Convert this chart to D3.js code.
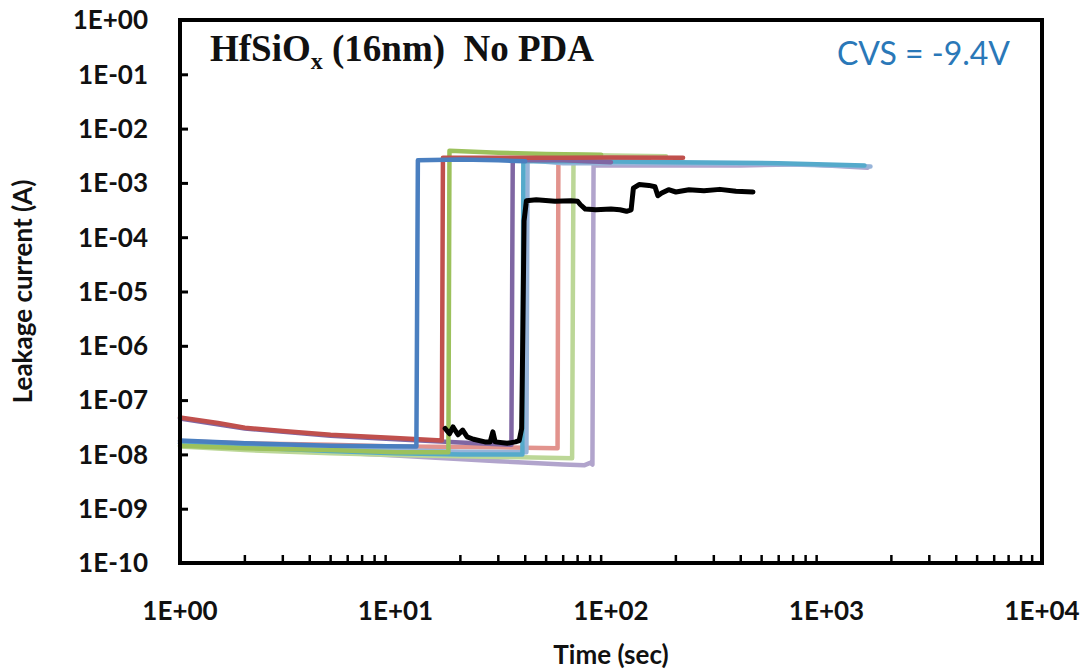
<!DOCTYPE html>
<html><head><meta charset="utf-8">
<script src="https://cdn.jsdelivr.net/npm/d3@7"></script>
<style>body{margin:0;background:#fff}</style>
</head><body>
<svg id="c" width="1089" height="671"></svg>
<script>
// ---- data: [time (s), leakage current (A)] ----
const blue = [[1,1.8e-8],[2,1.6e-8],[5,1.45e-8],[12.5,1.4e-8],[12.7,2.6e-3],[20,2.7e-3],[30,2.6e-3],[40,2.5e-3]];
const red = [[1,4.8e-8],[1.5,3.8e-8],[2,3.1e-8],[3,2.7e-8],[5,2.3e-8],[10,2e-8],[16.4,1.8e-8],[16.6,2.9e-3],[30,2.9e-3],[60,2.9e-3],[100,2.95e-3],[216,2.9e-3]];
const green = [[1,1.45e-8],[2,1.3e-8],[5,1.2e-8],[10,1.1e-8],[17.6,1.1e-8],[17.8,3.9e-3],[30,3.6e-3],[50,3.4e-3],[90,3.3e-3]];
const purple = [[1,4.6e-8],[2,3e-8],[5,2.2e-8],[10,1.9e-8],[20,1.65e-8],[34.5,1.5e-8],[35,2.6e-3],[60,2.6e-3],[100,2.4e-3]];
const cyan = [[1,1.6e-8],[2,1.35e-8],[5,1.15e-8],[10,1.05e-8],[20,1e-8],[38.8,1e-8],[39.2,2.5e-3],[80,2.5e-3],[200,2.4e-3],[600,2.3e-3],[1500,2.1e-3]];
const lightblue = [[1,1.7e-8],[2,1.45e-8],[5,1.3e-8],[10,1.2e-8],[20,1.12e-8],[40.5,1.1e-8],[41,2.6e-3],[60,2.3e-3],[150,2.3e-3],[500,2.25e-3],[1600,2e-3]];
const pink = [[1,1.75e-8],[2,1.6e-8],[5,1.5e-8],[10,1.4e-8],[30,1.35e-8],[56.5,1.3e-8],[57,2.9e-3],[100,2.8e-3],[150,2.7e-3]];
const lightgreen = [[1,1.4e-8],[2,1.2e-8],[5,1.05e-8],[10,9.8e-9],[30,9e-9],[66,8.5e-9],[67,3.3e-3],[100,3.2e-3],[180,3.1e-3]];
const lavender = [[1,1.6e-8],[2,1.3e-8],[5,1.1e-8],[10,9.5e-9],[30,7.5e-9],[60,6.5e-9],[75,6.3e-9],[80,7e-9],[82,6.5e-9],[83,2.1e-3],[150,2.1e-3],[400,2.1e-3],[800,2.2e-3],[1550,1.9e-3]];
const black = [[17,3e-8],[17.8,2.4e-8],[18.5,3.2e-8],[19.5,2.3e-8],[20.5,2.8e-8],[21.5,2.1e-8],[23,1.9e-8],[26,1.7e-8],[27.5,1.7e-8],[28.3,2.6e-8],[29,1.7e-8],[33,1.6e-8],[36,1.7e-8],[37.5,1.8e-8],[38.5,3e-8],[39,2e-6],[39.5,2e-4],[40.5,4.7e-4],[45,4.9e-4],[55,4.6e-4],[65,4.7e-4],[70,4.6e-4],[72,4e-4],[76,3.3e-4],[85,3.2e-4],[100,3.3e-4],[110,3.2e-4],[118,3e-4],[124,3.2e-4],[127,8e-4],[135,9.3e-4],[150,9e-4],[160,8.5e-4],[165,5.8e-4],[172,6.5e-4],[185,7.5e-4],[200,6.8e-4],[230,7.5e-4],[270,7.2e-4],[320,7.6e-4],[380,7e-4],[456,6.8e-4]];

const seriesList = [
  {name:"lavender", data:lavender, color:"#b1a4cc"},
  {name:"lightgreen", data:lightgreen, color:"#bcd797"},
  {name:"pink", data:pink, color:"#e2938d"},
  {name:"lightblue", data:lightblue, color:"#97b4d9"},
  {name:"cyan", data:cyan, color:"#55aacb"},
  {name:"purple", data:purple, color:"#7f66a3"},
  {name:"green", data:green, color:"#9cc15c"},
  {name:"red", data:red, color:"#c0504d"},
  {name:"blue", data:blue, color:"#4a7fc0"},
  {name:"black", data:black, color:"#000000"}
];
const xTickValues = [1,10,100,1000,10000];
const yTickValues = [1,1e-1,1e-2,1e-3,1e-4,1e-5,1e-6,1e-7,1e-8,1e-9,1e-10];
const fmtE = v => { const e = Math.round(Math.log10(v)); return "1E" + (e<0?"-":"+") + String(Math.abs(e)).padStart(2,"0"); };

const W=1089,H=671, L=180, R=1042, T=20, B=563;
const svg = d3.select("#c");
const x = d3.scaleLog().domain([1,10000]).range([L,R]);
const y = d3.scaleLog().domain([1e-10,1]).range([B,T]);

const line = d3.line().x(d=>x(d[0])).y(d=>y(d[1])).curve(d3.curveLinear);
const plot = svg.append("g");
plot.selectAll("path.s").data(seriesList).join("path")
  .attr("class","s").attr("d",d=>line(d.data))
  .attr("fill","none").attr("stroke",d=>d.color)
  .attr("stroke-width",d=>d.name==="black"?5:4.5)
  .attr("stroke-linejoin","round").attr("stroke-linecap","round");

// minor x ticks (inside)
const minor = [];
for (let d=1; d<10000; d*=10) for (let k=2;k<=9;k++) minor.push(d*k);
svg.append("g").selectAll("line").data(minor).join("line")
  .attr("x1",d=>x(d)).attr("x2",d=>x(d)).attr("y1",B).attr("y2",B-8)
  .attr("stroke","#000").attr("stroke-width",2.5);

// y axis with inside ticks
const yAxis = d3.axisRight(y).tickValues(yTickValues).tickSize(8).tickFormat("");
const ya = svg.append("g").attr("transform",`translate(${L},0)`).call(yAxis);
ya.select(".domain").remove();
ya.selectAll("line").attr("stroke-width",3);

// y labels
svg.append("g").selectAll("text").data(yTickValues).join("text")
  .attr("x",148).attr("y",d=>y(d)).attr("dy","0.36em")
  .attr("text-anchor","end").attr("font-family","Lato, 'Open Sans', sans-serif")
  .attr("font-weight","bold").attr("font-size",26).attr("fill","#111").text(fmtE);
// x labels
svg.append("g").selectAll("text").data(xTickValues).join("text")
  .attr("x",d=>x(d)).attr("y",620)
  .attr("text-anchor","middle").attr("font-family","Lato, 'Open Sans', sans-serif")
  .attr("font-weight","bold").attr("font-size",26).attr("fill","#111").text(fmtE);

// frame
svg.append("rect").attr("x",L).attr("y",T).attr("width",R-L).attr("height",B-T)
  .attr("fill","none").attr("stroke","#000").attr("stroke-width",4);

// axis titles
svg.append("text").attr("x",(L+R)/2).attr("y",664).attr("text-anchor","middle")
  .attr("font-family","Lato, sans-serif").attr("font-weight","bold").attr("font-size",26)
  .attr("fill","#111").text("Time (sec)");
svg.append("text").attr("transform",`translate(32,${(T+B)/2}) rotate(-90)`).attr("text-anchor","middle")
  .attr("font-family","Lato, sans-serif").attr("font-weight","bold").attr("font-size",26)
  .attr("fill","#111").text("Leakage current (A)");

// annotations
const t = svg.append("text").attr("x",210).attr("y",61)
  .attr("font-family","'Liberation Serif', 'Times New Roman', serif").attr("font-weight","bold")
  .attr("font-size",37).attr("fill","#111");
t.append("tspan").text("HfSiO");
t.append("tspan").attr("font-size",24).attr("dy",8).text("x");
t.append("tspan").attr("dy",-8).text("\u00a0(16nm)\u00a0\u00a0No PDA");

svg.append("text").attr("x",1010).attr("y",65).attr("text-anchor","end")
  .attr("font-family","Lato, 'Open Sans', sans-serif").attr("font-size",32)
  .attr("fill","#2a78b8").text("CVS = -9.4V");
</script>
</body></html>
